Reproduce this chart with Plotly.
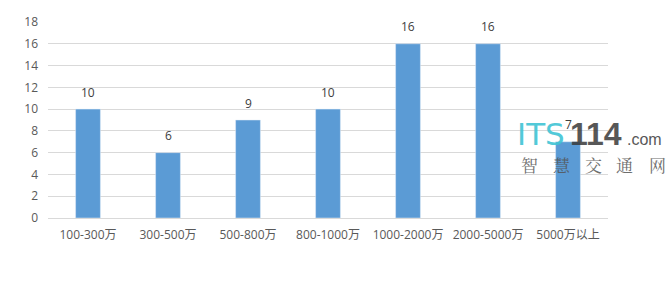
import plotly.graph_objects as go

categories = ["100-300万", "300-500万", "500-800万", "800-1000万", "1000-2000万", "2000-5000万", "5000万以上"]
values = [10, 6, 9, 10, 16, 16, 7]
y_ticks = [0, 2, 4, 6, 8, 10, 12, 14, 16, 18]
watermark_chars = ["智", "慧", "交", "通", "网"]

W, H = 667, 283
L, R, T, B = 48, 59, 22, 65

font = "Open Sans, Noto Sans CJK SC, sans-serif"

fig = go.Figure()
fig.add_trace(go.Bar(
    x=categories, y=values, marker_color="#5B9BD5", width=0.31,
))
for c, v in zip(categories, values):
    fig.add_annotation(x=c, y=v, text=str(v), showarrow=False, yshift=17,
                       yanchor="middle", font=dict(family=font, size=12, color="#404040"))

fig.update_layout(
    width=W, height=H, margin=dict(l=L, r=R, t=T, b=B),
    plot_bgcolor="white", paper_bgcolor="white",
    font=dict(family=font, size=12, color="#595959"),
    showlegend=False,
    xaxis=dict(showgrid=False, showline=True, linecolor="#D9D9D9", linewidth=1,
               ticks="", tickfont=dict(size=12, color="#595959"), ticklabelstandoff=6),
    yaxis=dict(range=[0, 18], tickvals=y_ticks, showgrid=True, gridcolor="#D9D9D9",
               gridwidth=1, zeroline=False, ticks="", ticklabelstandoff=9,
               tickfont=dict(size=12, color="#595959")),
)

pw = W - L - R
ph = H - T - B
def px(x): return (x - L) / pw
def py(y): return (H - B - y) / ph

fig.add_annotation(xref="paper", yref="paper", x=px(515), y=py(134), xanchor="left", yanchor="middle",
                   text="ITS", showarrow=False,
                   font=dict(family="DejaVu Sans, sans-serif", size=31, color="#40C4D4"), opacity=0.9)
fig.add_annotation(xref="paper", yref="paper", x=px(568), y=py(134), xanchor="left", yanchor="middle",
                   text="<b>114</b>", showarrow=False,
                   font=dict(family="Liberation Sans, sans-serif", size=32, color="#3a3a3a"), opacity=0.85)
fig.add_annotation(xref="paper", yref="paper", x=px(625), y=py(139), xanchor="left", yanchor="middle",
                   text=".com", showarrow=False,
                   font=dict(family="Liberation Sans, sans-serif", size=16, color="#3a3a3a"), opacity=0.85)
for i, ch in enumerate(watermark_chars):
    fig.add_annotation(xref="paper", yref="paper", x=px(529 + i * 32), y=py(164), xanchor="center",
                       yanchor="middle", text=ch, showarrow=False,
                       font=dict(family="Noto Serif CJK SC, Noto Sans CJK SC", size=17, color="#555555"),
                       opacity=0.85)

fig.write_html("out.html")
